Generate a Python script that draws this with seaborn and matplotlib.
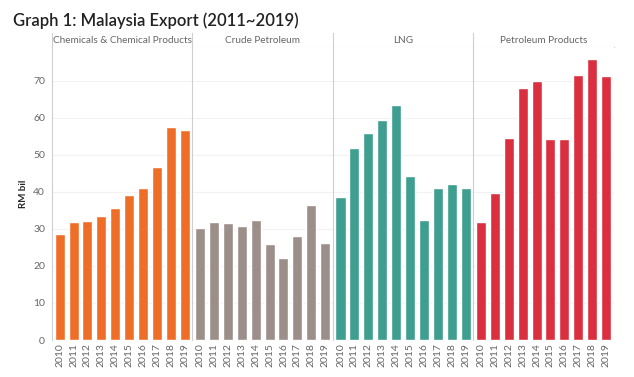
import pandas as pd
import matplotlib.pyplot as plt
import seaborn as sns

years = [str(y) for y in range(2010, 2020)]
categories = ["Chemicals & Chemical Products", "Crude Petroleum", "LNG", "Petroleum Products"]

chemicals = [28.6, 31.9, 32.2, 33.4, 35.6, 39.2, 41.0, 46.8, 57.4, 56.7]
crude = [30.3, 31.8, 31.6, 30.7, 32.4, 25.8, 22.2, 28.1, 36.4, 26.1]
lng = [38.6, 51.8, 55.9, 59.3, 63.3, 44.3, 32.4, 41.1, 42.1, 41.1]
petroleum = [31.9, 39.8, 54.6, 68.0, 69.9, 54.1, 54.3, 71.4, 75.7, 71.1]

colors = ["#EF6E27", "#9C8E89", "#3E9E8F", "#DA2F3F"]
y_ticks = [0, 10, 20, 30, 40, 50, 60, 70]

df = pd.DataFrame({
    "category": [c for c in categories for _ in years],
    "year": years * 4,
    "value": chemicals + crude + lng + petroleum,
})

sns.set_style("white")
plt.rcParams["font.family"] = ["Lato", "DejaVu Sans"]

fig = plt.figure(figsize=(6.34, 3.77), dpi=100)
gs = fig.add_gridspec(2, 4, left=0.082, right=0.968, top=0.912, bottom=0.098,
                      height_ratios=[14, 293], wspace=0, hspace=0)

line_col = "#cfcfcf"
text_col = "#666666"

for i, cat in enumerate(categories):
    # header strip
    hax = fig.add_subplot(gs[0, i])
    hax.set_xticks([])
    hax.set_yticks([])
    for s in ["top", "right"]:
        hax.spines[s].set_visible(False)
    hax.spines["bottom"].set_color(line_col)
    hax.spines["left"].set_color(line_col)
    hax.text(0.5, 0.45, cat, ha="center", va="center", fontsize=7.2, color=text_col,
             transform=hax.transAxes)

    ax = fig.add_subplot(gs[1, i])
    sub = df[df["category"] == cat]
    sns.barplot(data=sub, x="year", y="value", color=colors[i], width=0.72,
                saturation=1, ax=ax)
    ax.set_ylim(0, 79)
    ax.set_xlim(-0.55, 9.55)
    ax.set_yticks(y_ticks)
    ax.yaxis.grid(True, color="#f2f2f2", linewidth=0.8)
    ax.set_axisbelow(True)
    ax.set_xlabel("")
    ax.set_ylabel("")
    for s in ["top", "right", "bottom"]:
        ax.spines[s].set_visible(False)
    ax.spines["left"].set_color(line_col)
    ax.tick_params(axis="x", labelrotation=90, labelsize=7.5, labelcolor=text_col,
                   length=0, pad=2)
    if i == 0:
        ax.tick_params(axis="y", labelsize=7.5, labelcolor=text_col, length=0, pad=5)
        ax.set_ylabel("RM bil", fontsize=7, fontweight="bold", labelpad=4)
    else:
        ax.tick_params(axis="y", left=False, labelleft=False)

fig.text(0.02, 0.945, "Graph 1: Malaysia Export (2011~2019)", fontsize=12,
         fontweight="semibold", color="#222222", va="center", ha="left")

plt.savefig("out.png", dpi=100)
